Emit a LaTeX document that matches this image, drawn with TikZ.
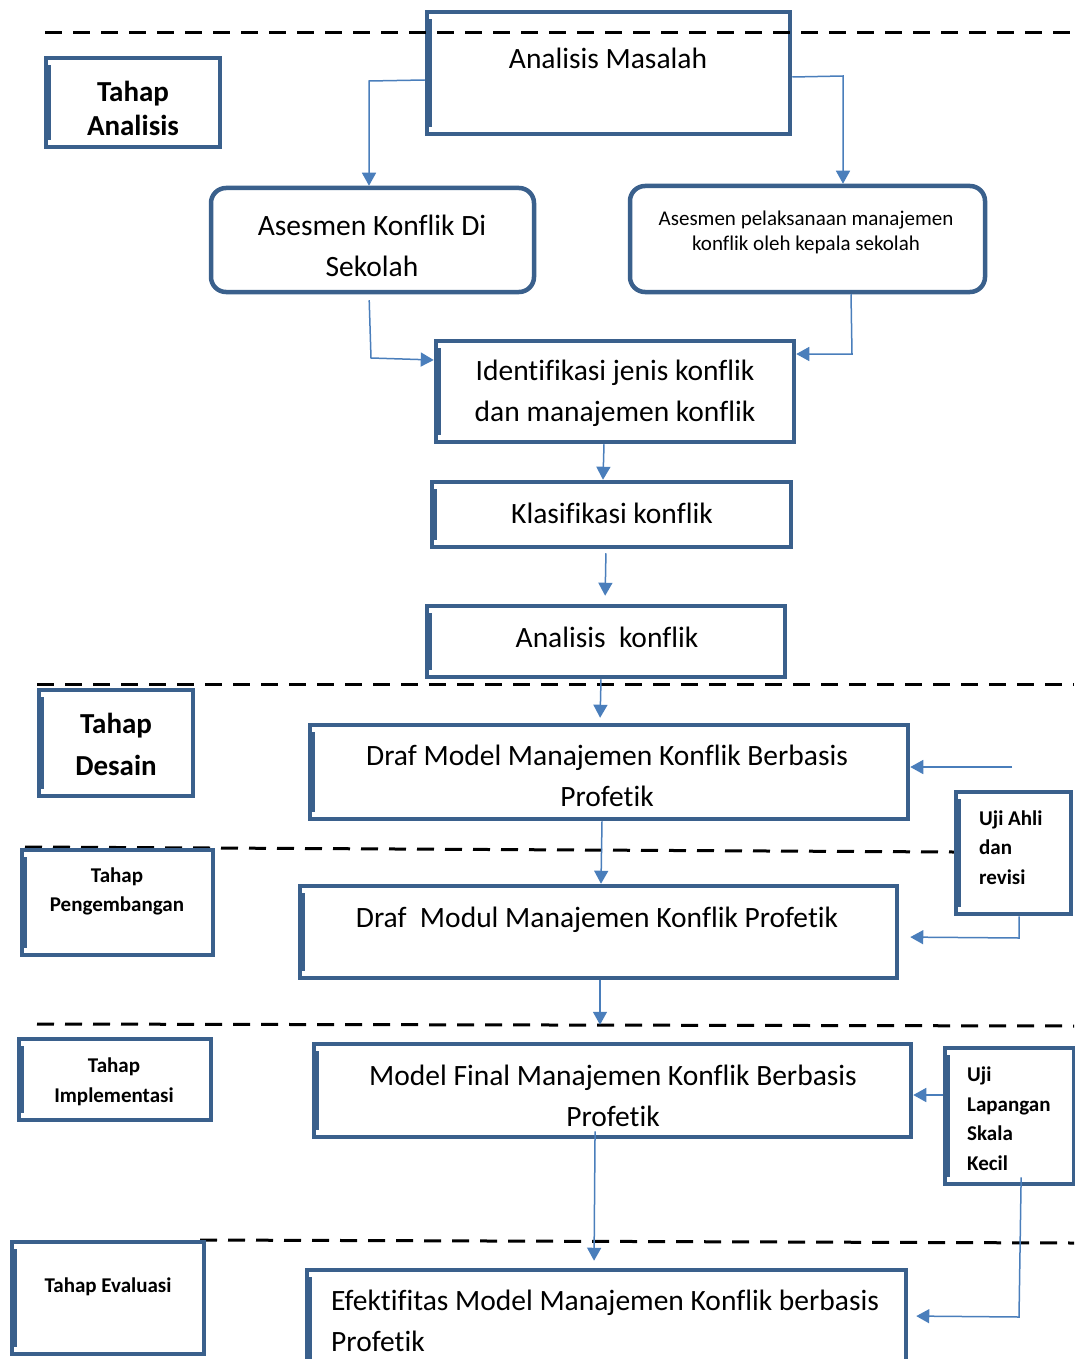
\documentclass[tikz,border=0pt]{standalone}
\usepackage{fontspec}
\setmainfont{Carlito}[Ligatures={NoCommon,NoRequired,NoContextual}]
\usetikzlibrary{arrows.meta}
\definecolor{boxc}{RGB}{58,96,140}
\definecolor{arrc}{RGB}{74,126,187}
\begin{document}
\begin{tikzpicture}[x=1pt,y=-1pt,
  box/.style 2 args={draw=boxc, fill=white, line width=4.5pt, inner sep=0pt,
    minimum width=#1, minimum height=#2,
    path picture={\fill[boxc] ([xshift=2pt,yshift=7pt]path picture bounding box.south west)
      rectangle ([xshift=5pt,yshift=-7pt]path picture bounding box.north west);}},
  rbox/.style 2 args={draw=boxc, fill=white, line width=4.5pt, inner sep=0pt,
    rounded corners=15pt, minimum width=#1, minimum height=#2},
  big/.style={font=\fontsize{29.5}{41}\selectfont, align=center, inner sep=0pt},
  small/.style={font=\fontsize{21}{25}\selectfont, align=center, inner sep=0pt},
  lab/.style={font=\bfseries\fontsize{29}{34}\selectfont, align=center, inner sep=0pt},
  slab/.style={font=\bfseries\fontsize{21}{29.5}\selectfont, align=center, inner sep=0pt},
  conn/.style={draw=arrc, line width=1.5pt, -{Triangle[length=13pt,width=14pt]}},
  phase/.style={draw=black, line width=3pt, dash pattern=on 17pt off 11pt}]
\useasboundingbox (0,0) rectangle (1074,1359);

% phase separators (drawn below the boxes)
\draw[phase] (37,684) -- (1074,684);
\draw[phase] (25,847) -- (954,852);
\draw[phase] (37,1024) -- (1074,1026);
\draw[phase] (200,1240) -- (1074,1243);

% stage labels
\node[box={174}{89}] (ta) at (133,102.5) {};
\node[lab] (ta-t) at (133,108) {Tahap\\Analisis};
\node[box={154}{106}] (td) at (116,743) {};
\node[lab, font=\bfseries\fontsize{29}{42}\selectfont] (td-t) at (116,744) {Tahap\\Desain};
\node[box={191}{105}] (tp) at (117.5,902.5) {};
\node[slab] (tp-t) at (117,891.5) {Tahap\\Pengembangan};
\node[box={192}{81}] (ti) at (115,1079.5) {};
\node[slab] (ti-t) at (114,1082) {Tahap\\Implementasi};
\node[box={192}{112}] (te) at (108,1298) {};
\node[slab] (te-t) at (108,1287) {Tahap Evaluasi};

% analysis stage
\node[box={363}{122}] (am) at (608.5,73) {};
\node[big] (am-t) at (608,58) {Analisis Masalah};
\node[rbox={323}{104}] (ak) at (372.5,240) {};
\node[big] (ak-t) at (372,245.5) {Asesmen Konflik Di\\Sekolah};
\node[rbox={355}{106}] (ap) at (807.5,239) {};
\node[small] (ap-t) at (806,232) {Asesmen pelaksanaan manajemen\\konflik oleh kepala sekolah};
\node[box={358}{101}] (id) at (615,391.5) {};
\node[big] (id-t) at (615,393.5) {Identifikasi jenis konflik\\dan manajemen konflik};
\node[box={359}{65}] (kl) at (611.5,514.5) {};
\node[big] (kl-t) at (612,513) {Klasifikasi konflik};
\node[box={358}{71}] (an) at (606,641.5) {};
\node[big] (an-t) at (607,637) {Analisis~~konflik};

% design, development, implementation, evaluation
\node[box={598}{94}] (dm) at (609,772) {};
\node[big] (dm-t) at (607,776) {Draf Model Manajemen Konflik Berbasis\\Profetik};
\node[box={115}{122}] (ua) at (1013.5,853) {};
\node[slab, align=left, anchor=west] (ua-t) at (979,847.5) {Uji Ahli\\dan\\revisi};
\node[box={597}{92}] (dmod) at (598.5,932) {};
\node[big] (dmod-t) at (597,920) {Draf~~Modul Manajemen Konflik Profetik};
\node[box={597}{93}] (mf) at (612.5,1090.5) {};
\node[big] (mf-t) at (613,1096) {Model Final Manajemen Konflik Berbasis\\Profetik};
\node[box={129}{136}] (ul) at (1009.5,1116) {};
\node[slab, align=left, anchor=west] (ul-t) at (967,1118.5) {Uji\\Lapangan\\Skala\\Kecil};
\node[box={599}{128}] (ef) at (606.5,1334) {};
\node[big, align=left, anchor=west] (ef-t) at (331,1321) {Efektifitas Model Manajemen Konflik berbasis\\Profetik};

% top separator runs over the first box
\draw[phase] (45,33) -- (1074,33);

% connectors
\coordinate (fb) at (1012,767);
\draw[conn] (am.west |- 0,80) -- (369,81) -- (369,0 |- ak.north);
\draw[conn] (am.east |- 0,77) -- (843,76) -- (843,0 |- ap.north);
\draw[conn, shorten <=6pt] (369,0 |- ak.south) -- (371,358) -- (id.west |- 0,360);
\draw[conn] (851,0 |- ap.south) -- (852,354) -- (id.east |- 0,354);
\draw[conn] (604,0 |- id.south) -- (603,0 |- kl.north);
\draw[conn, shorten <=4pt, shorten >=8pt] (606,0 |- kl.south) -- (605,0 |- an.north);
\draw[conn, shorten >=5pt] (601,0 |- an.south) -- (600,0 |- dm.north);
\draw[conn] (602,0 |- dm.south) -- (601,0 |- dmod.north);
\draw[conn, shorten >=17pt] (600,0 |- dmod.south) -- (600,0 |- mf.north);
\draw[conn, shorten <=-8pt, shorten >=7pt] (595,0 |- mf.south) -- (594,0 |- ef.north);
\draw[conn] (fb) -- (dm.east |- fb);
\draw[conn, shorten >=11pt] (1019,0 |- ua.south) -- (1019,938) -- (dmod.east |- 0,937);
\draw[conn] (ul.west |- 0,1095) -- (mf.east |- 0,1095);
\draw[conn, shorten <=-9pt, shorten >=8pt] (1021,0 |- ul.south) -- (1019,1317) -- (ef.east |- 0,1316);
\end{tikzpicture}
\end{document}
